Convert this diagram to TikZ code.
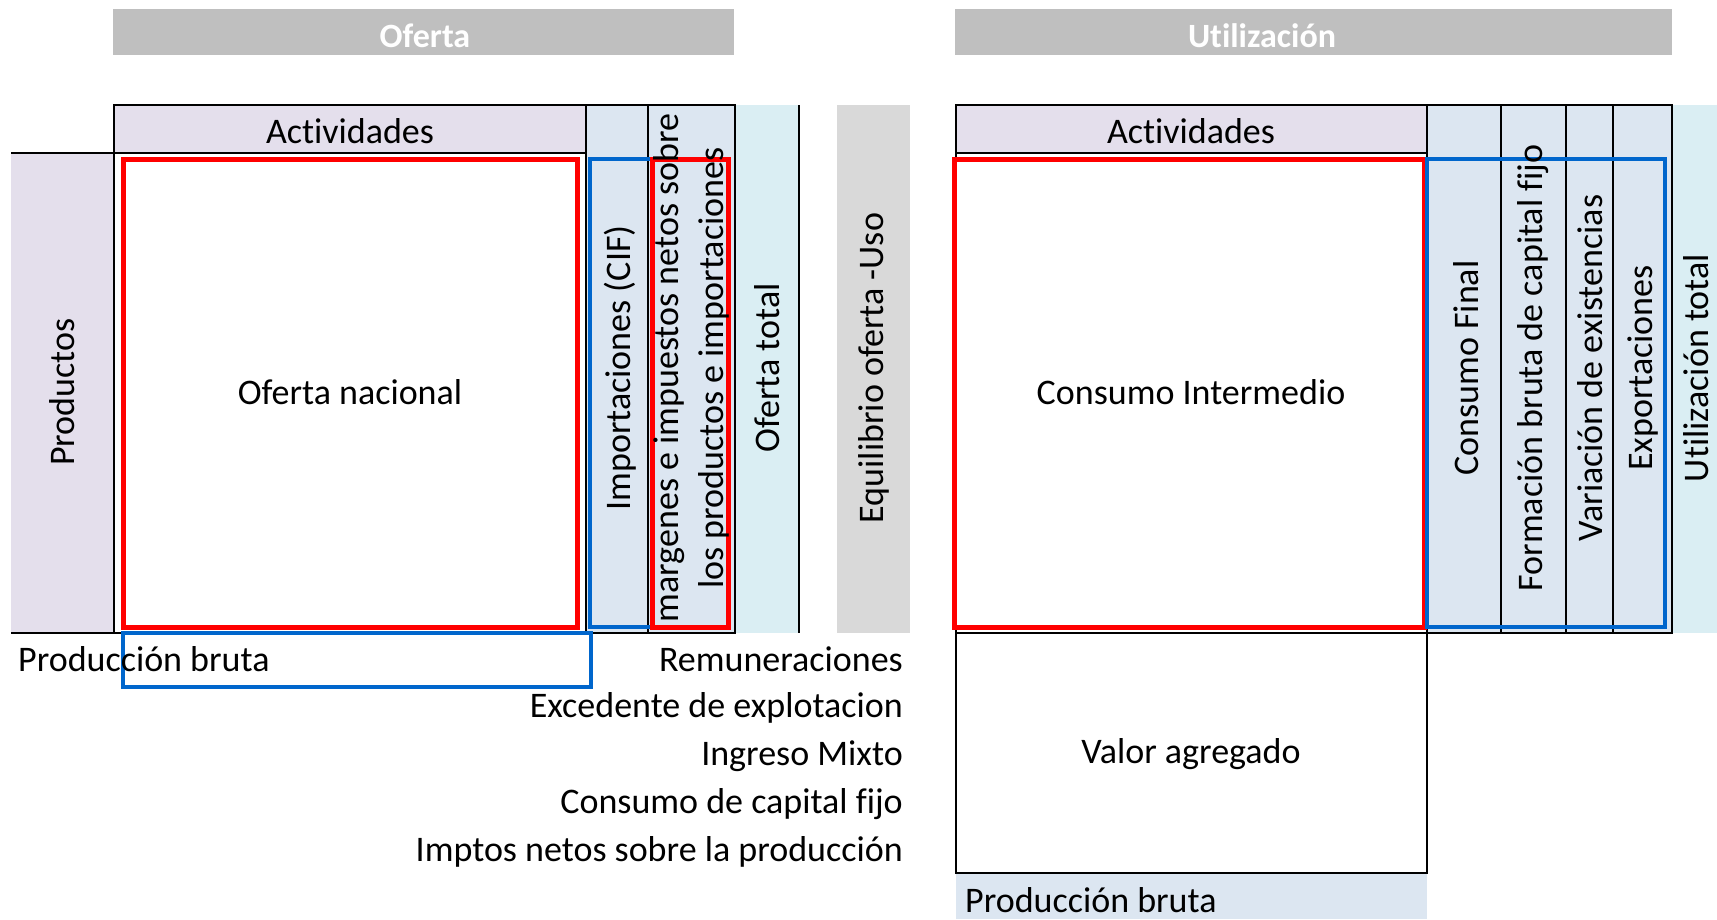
\documentclass[tikz,border=0pt]{standalone}
\usepackage{fontspec}
\setmainfont{Carlito}[Ligatures={NoCommon,NoContextual,NoRare}, RawFeature={-liga;-clig;-calt;-dlig}]
\definecolor{lav}{HTML}{E4DFEC}
\definecolor{lblue}{HTML}{DCE6F1}
\definecolor{lcyan}{HTML}{DAEEF3}
\definecolor{hgrey}{HTML}{BFBFBF}
\definecolor{egrey}{HTML}{D9D9D9}
\definecolor{bblue}{HTML}{0066CC}
\newcommand{\nlig}{\kern0pt{}}
\begin{document}
\begin{tikzpicture}[x=1pt,y=-1pt,
  lbl/.style={font=\fontsize{36}{45}\selectfont, inner sep=0pt},
  vlbl/.style={lbl, rotate=90},
  ttl/.style={font=\fontsize{34}{40}\selectfont\bfseries, text=white, inner sep=0pt},
  grid/.style={draw=black, line width=1.6pt},
  redbox/.style={draw=red, line width=5pt},
  bluebox/.style={draw=bblue, line width=4.2pt}]
\useasboundingbox (0,0) rectangle (1717,919);
% title bars
\fill[hgrey] (113,9) rectangle (734,55);
\fill[hgrey] (955,9) rectangle (1672,55);
\node[ttl] (tof) at (425,36) {Oferta};
\node[ttl] (tut) at (1262,36) {Ut\nlig ilización};
% ---------- left table ----------
\fill[lav] (114,105) rectangle (586,153);
\fill[lav] (11,153) rectangle (114,633);
\fill[lblue] (586,105) rectangle (735,633);
\fill[lcyan] (735,105) rectangle (799,633);
\fill[egrey] (837,105) rectangle (910,633);
\draw[grid] (114,105) rectangle (586,153);
\draw[grid] (586,105) rectangle (648,633);
\draw[grid] (648,105) rectangle (735,633);
\draw[grid] (11,153) -- (114,153);
\draw[grid] (114,153) -- (114,633);
\draw[grid] (11,633) -- (735,633);
\draw[grid] (799,105) -- (799,633);
\draw[bluebox] (590,159) rectangle (652,627);
\draw[redbox] (123,159) rectangle (577,627);
\draw[redbox] (652,159) rectangle (728,627);
\draw[bluebox] (123,633) rectangle (591,687);
\node[lbl] (act1) at (350,131) {Act\nlig ividades};
\node[vlbl] (prod) at (62,392) {Productos};
\node[lbl] (ofn) at (350,392) {Oferta nacional};
\node[vlbl] (imp) at (620,368) {Importaciones (CIF)};
\node[vlbl, align=center] (marg) at (691,368) {margenes e impuestos netos sobre\\los productos e importaciones};
\node[vlbl] (oft) at (767,368) {Oferta total};
\node[vlbl] (equ) at (874,368) {Equilibrio oferta -Uso};
\node[lbl, anchor=west] (pb1) at (18,659) {Producción bruta};
\node[lbl, anchor=east] (rem) at (903,659) {Remuneraciones};
\node[lbl, anchor=east] (exc) at (903,708) {Excedente de explotacion};
\node[lbl, anchor=east] (ing) at (903,756) {Ingreso Mixto};
\node[lbl, anchor=east] (ccf) at (903,804) {Consumo de capital f\nlig ijo};
\node[lbl, anchor=east] (imn) at (903,852) {Imptos netos sobre la producción};
% ---------- right table ----------
\fill[lav] (956,105) rectangle (1427,153);
\fill[lblue] (1427,105) rectangle (1672,633);
\fill[lcyan] (1672,105) rectangle (1717,633);
\fill[lblue] (956,873) rectangle (1427,919);
\draw[grid] (956,105) rectangle (1427,153);
\draw[grid] (956,153) rectangle (1427,633);
\draw[grid] (1427,105) rectangle (1501,633);
\draw[grid] (1501,105) rectangle (1566,633);
\draw[grid] (1566,105) rectangle (1613,633);
\draw[grid] (1613,105) rectangle (1672,633);
\draw[grid] (956,633) rectangle (1427,873);
\draw[redbox] (954,159) rectangle (1424,627);
\draw[bluebox] (1427,159) rectangle (1665,627);
\node[lbl] (act2) at (1191,131) {Act\nlig ividades};
\node[lbl] (cint) at (1191,392) {Consumo Intermedio};
\node[vlbl] (cfin) at (1466,368) {Consumo Final};
\node[vlbl] (fbk) at (1533,368) {Formación bruta  de capital f\nlig ijo};
\node[vlbl] (vex) at (1590,368) {Variación de existencias};
\node[vlbl] (exp) at (1643,368) {Exportaciones};
\node[vlbl] (utt) at (1696,368) {Ut\nlig ilización total};
\node[lbl] (vag) at (1191,754) {Valor agregado};
\node[lbl, anchor=west] (pb2) at (965,900) {Producción bruta};
\end{tikzpicture}
\end{document}
